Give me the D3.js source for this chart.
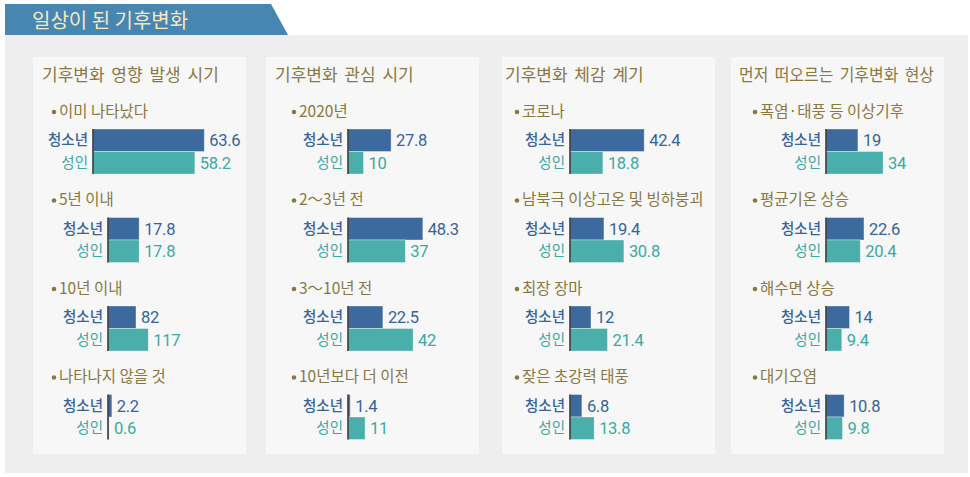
<!DOCTYPE html>
<html>
<head>
<meta charset="utf-8">
<title>일상이 된 기후변화</title>
<script src="https://cdnjs.cloudflare.com/ajax/libs/d3/7.8.5/d3.min.js"></script>
<style>
  body { margin: 0; background: #fff; }
  svg { display: block; font-family: "Noto Sans CJK KR", sans-serif; }
  .val { font-family: Roboto, "Noto Sans", sans-serif; }
</style>
</head>
<body>
<svg id="chart" width="970" height="477"></svg>
<script>
// data
var chartTitle = "일상이 된 기후변화";
var seriesNames = ["청소년", "성인"];
var panelTitles = ["기후변화 영향 발생 시기", "기후변화 관심 시기", "기후변화 체감 계기", "먼저 떠오르는 기후변화 현상"];
var categories = [
  ["이미 나타났다", "5년 이내", "10년 이내", "나타나지 않을 것"],
  ["2020년", "2～3년 전", "3～10년 전", "10년보다 더 이전"],
  ["코로나", "남북극 이상고온 및 빙하붕괴", "최장 장마", "잦은 초강력 태풍"],
  ["폭염·태풍 등 이상기후", "평균기온 상승", "해수면 상승", "대기오염"]
];
var youthValues = [
  [63.6, 17.8, 82, 2.2],
  [27.8, 48.3, 22.5, 1.4],
  [42.4, 19.4, 12, 6.8],
  [19, 22.6, 14, 10.8]
];
var adultValues = [
  [58.2, 17.8, 117, 0.6],
  [10, 37, 42, 11],
  [18.8, 30.8, 21.4, 13.8],
  [34, 20.4, 9.4, 9.8]
];
// the source graphic draws these two bars far shorter than their labels say
var drawnAs = { 82: 16, 117: 23 };

// layout
var panels = [
  { x: 33,  titleX: 9, bulletX: 21, barX: [60, 75, 75, 75], k: 1.75 },
  { x: 266, titleX: 9, bulletX: 28, barX: [82, 82, 82, 82], k: 1.55 },
  { x: 502, titleX: 3, bulletX: 15, barX: [68, 68, 68, 68], k: 1.75 },
  { x: 731, titleX: 8, bulletX: 24, barX: [95, 95, 95, 95], k: 1.68 }
];
var panelW = 213, panelTop = 57, panelBottom = 454;
var gold = "#8a7842";
var barColors = ["#3d6a9e", "#4aaeaa"];
var textColors = ["#35649b", "#3aa9a4"];
var barH = 22.5;

var svg = d3.select("#chart");

// outer box + header tab
svg.append("rect").attr("x", 5).attr("y", 35).attr("width", 963).attr("height", 438).attr("fill", "#eeeeee");
svg.append("path").attr("d", "M5,4 L271,4 L288,35 L5,35 Z").attr("fill", "#4786b0");
svg.append("text").attr("x", 32).attr("y", 28)
  .attr("fill", "#f4e8c4").style("font-size", "20px")
  .text(chartTitle);

panels.forEach(function(p, pi) {
  var g = svg.append("g").attr("transform", "translate(" + p.x + ",0)");
  g.append("rect").attr("x", 0).attr("y", panelTop).attr("width", panelW)
    .attr("height", panelBottom - panelTop).attr("fill", "#f7f7f7");

  var t = g.append("text").attr("x", p.titleX).attr("y", 81)
    .attr("fill", gold).style("font-size", "17px").attr("word-spacing", "3px")
    .text(panelTitles[pi]);
  var maxW = panelW - p.titleX - 10;
  if (t.node().getComputedTextLength() > maxW) {
    t.attr("textLength", maxW).attr("lengthAdjust", "spacingAndGlyphs");
  }

  var x = d3.scaleLinear().domain([0, 100]).range([0, 100 * p.k]);
  var y = d3.scaleLinear().domain([0, 1]).range([111, 199.5]);

  categories[pi].forEach(function(cat, ci) {
    var cy = y(ci);
    g.append("circle").attr("cx", p.bulletX).attr("cy", cy + 1).attr("r", 2.3).attr("fill", gold);
    var ct = g.append("text").attr("x", p.bulletX + 5).attr("y", cy)
      .attr("dy", "0.36em").attr("fill", gold).style("font-size", "15.5px")
      .text(cat);
    var cMax = panelW - p.bulletX - 7;
    if (ct.node().getComputedTextLength() > cMax) {
      ct.attr("textLength", cMax).attr("lengthAdjust", "spacingAndGlyphs");
    }

    var bx = p.barX[ci];
    var top = cy + 18;
    var vals = [youthValues[pi][ci], adultValues[pi][ci]];
    var band = d3.scaleBand().domain(seriesNames).range([top, top + 2 * barH]);

    vals.forEach(function(v, si) {
      var s = seriesNames[si];
      var len = drawnAs[v] !== undefined ? drawnAs[v] : v;
      g.append("rect").attr("x", bx).attr("y", band(s))
        .attr("width", x(len)).attr("height", band.bandwidth())
        .attr("fill", barColors[si])
        .attr("stroke", "rgba(255,255,255,0.45)").attr("stroke-width", 0.8);
      g.append("text").attr("x", bx - 5).attr("y", band(s) + band.bandwidth() / 2)
        .attr("dy", "0.36em").attr("text-anchor", "end")
        .attr("fill", textColors[si]).style("font-size", "14.5px")
        .style("font-weight", si === 0 ? 500 : 400)
        .text(s);
      g.append("text").attr("class", "val")
        .attr("x", bx + x(len) + 5).attr("y", band(s) + band.bandwidth() / 2)
        .attr("dy", "0.36em").attr("fill", textColors[si]).style("font-size", "16.5px")
        .attr("letter-spacing", "-0.3px")
        .text(v);
    });

    g.append("line").attr("x1", bx).attr("x2", bx)
      .attr("y1", top).attr("y2", top + 2 * barH)
      .attr("stroke", "#3a3a3a").attr("stroke-width", 1.6);
  });
});
</script>
</body>
</html>
